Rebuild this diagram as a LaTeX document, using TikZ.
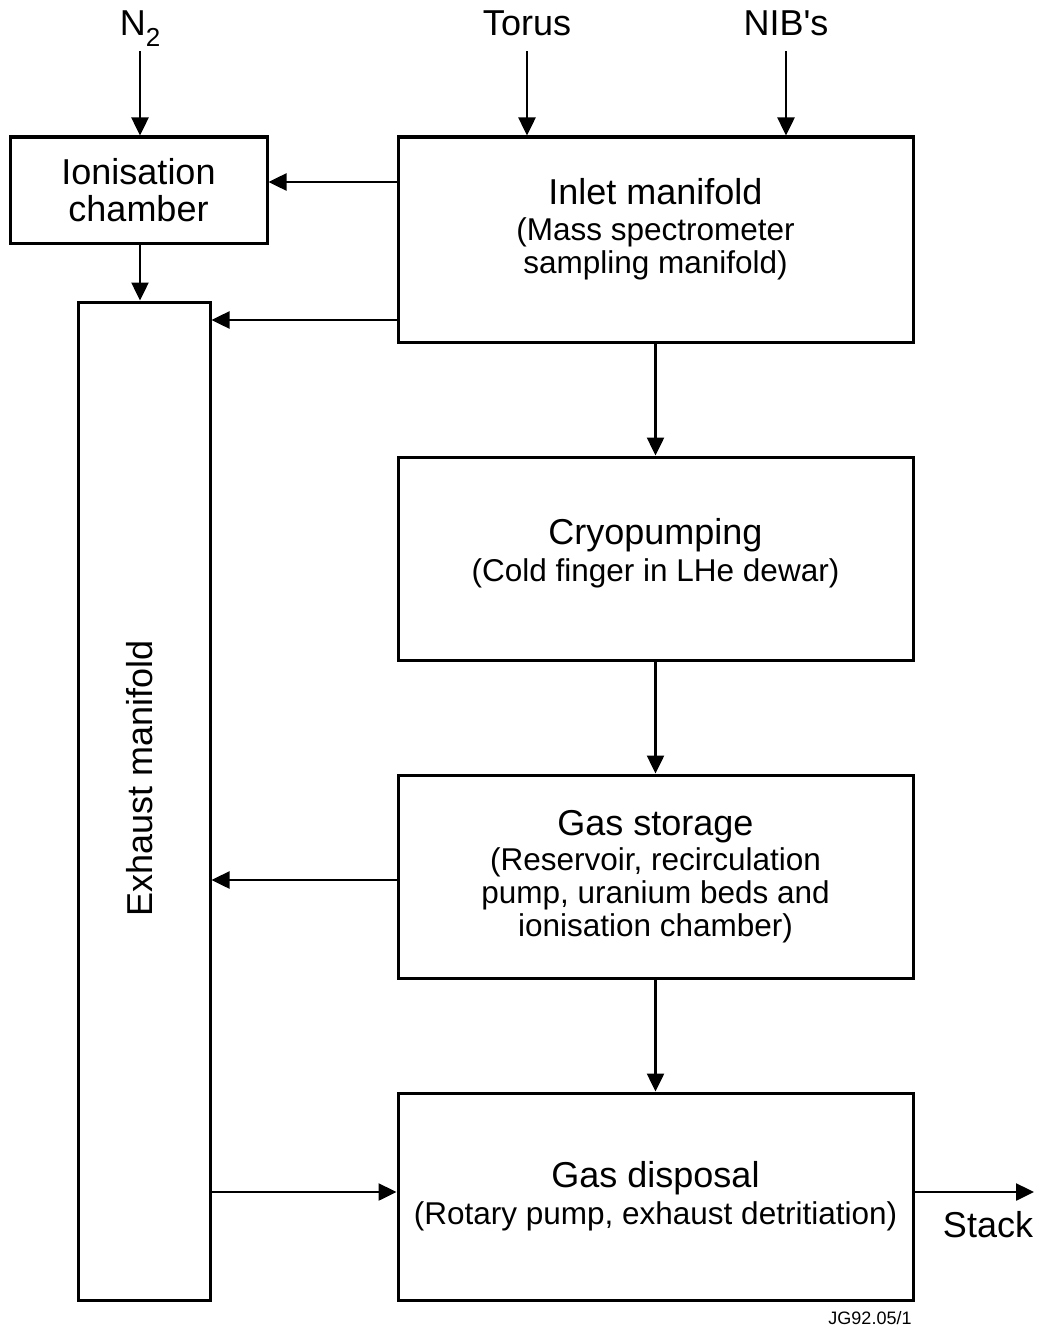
\documentclass[tikz,border=0pt]{standalone}
\usepackage{fontspec}
\setmainfont{Liberation Sans}[Ligatures=TeXOff]
\usepackage{tikz}
\usetikzlibrary{calc}
\usetikzlibrary{arrows.meta}

\newcommand{\headsize}{\fontsize{36}{37}\selectfont}
\newcommand{\notesize}{\fontsize{31.5}{33}\selectfont}

\begin{document}
\begin{tikzpicture}[x=1pt,y=-1pt,
  box/.style={draw,line width=3pt,inner sep=0pt,align=center,font=\notesize},
  source/.style={font=\headsize,inner sep=0pt,text depth=15pt,anchor=base},
  flow/.style={line width=2.5pt,-{Triangle[length=18pt,width=17pt]}}]
  \useasboundingbox (0,0) rectangle (1041,1327);

  \node[source] (n2) at (140,36) {N\raisebox{-0.3em}{\fontsize{26}{26}\selectfont 2}};
  \node[source] (torus) at (527,36) {Torus};
  \node[source] (nibs) at (786,36) {NIB's};

  \node[box,minimum width=257pt,minimum height=106pt,font=\headsize] (ion) at (138.5,190) {Ionisation\\chamber};
  \node[box,minimum width=132pt,minimum height=998pt] (exh) at (144,801) {};
  \node[rotate=90,font=\headsize] (exhlabel) at (140,778) {Exhaust manifold};

  \node[box,minimum width=515pt,minimum height=205pt] (inlet) at (655.5,239.5) {{\headsize Inlet manifold}\\[3pt](Mass spectrometer\\sampling manifold)\rule[-27pt]{0pt}{27pt}};
  \node[box,minimum width=515pt,minimum height=203pt] (cryo) at (655.5,558.5) {{\headsize Cryopumping}\\[4pt](Cold finger in LHe dewar)\rule[-17pt]{0pt}{17pt}};
  \node[box,minimum width=515pt,minimum height=203pt] (store) at (655.5,876.5) {{\headsize Gas storage}\\[2pt](Reservoir, recirculation\\pump, uranium beds and\\ionisation chamber)};
  \node[box,minimum width=515pt,minimum height=207pt] (disp) at (655.5,1196.5) {{\headsize Gas disposal}\\[4pt](Rotary pump, exhaust detritiation)};

  \node[font=\headsize] (stack) at (988,1225) {Stack};
  \coordinate (stackend) at (1034,1192);
  \node[font=\fontsize{18}{18}\selectfont] (tag) at (870,1318) {JG92.05/1};

  \draw[flow] (n2) -- (n2 |- ion.north);
  \draw[flow] (torus) -- (torus |- inlet.north);
  \draw[flow] (nibs) -- (nibs |- inlet.north);

  \draw[flow] (inlet.west |- 0,182) -- (ion.east |- 0,182);
  \draw[flow] (ion.south -| 140,0) -- (exh.north -| 140,0);
  \draw[flow] (inlet.west |- 0,320) -- (exh.east |- 0,320);

  \draw[flow] (inlet.south) -- (cryo.north);
  \draw[flow] (cryo.south) -- (store.north);
  \draw[flow] (store.west |- 0,880) -- (exh.east |- 0,880);
  \draw[flow] (store.south) -- (disp.north);
  \draw[flow] (exh.east |- 0,1192) -- (disp.west |- 0,1192);
  \draw[flow] (disp.east |- stackend) -- (stackend);

\end{tikzpicture}
\end{document}
